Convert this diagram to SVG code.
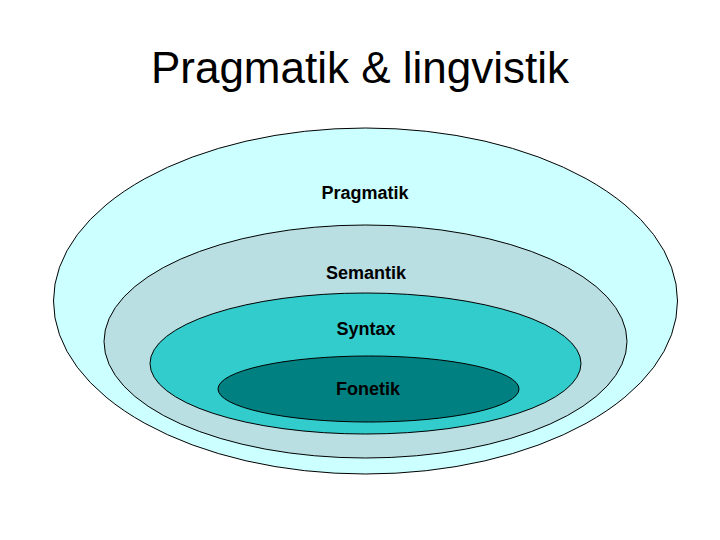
<svg xmlns="http://www.w3.org/2000/svg" width="720" height="540" viewBox="0 0 720 540">
<style>
.e{stroke:#000;stroke-width:1}
.l{font-family:"Liberation Sans",Arial,sans-serif;font-weight:bold;font-size:18px;text-anchor:middle;fill:#000}
.t{font-family:"Liberation Sans",Arial,sans-serif;font-size:44px;text-anchor:middle;fill:#000}
</style>
<rect width="720" height="540" fill="#fff"/>
<text class="t" x="360" y="83">Pragmatik &amp; lingvistik</text>
<g id="pragmatik">
<ellipse class="e" cx="365.5" cy="301" rx="312" ry="173" fill="#CCFFFF"/>
<text class="l" x="365" y="199">Pragmatik</text>
</g>
<g id="semantik">
<ellipse class="e" cx="365.5" cy="341.5" rx="261.5" ry="116.5" fill="#B9DFE3"/>
<text class="l" x="366" y="279">Semantik</text>
</g>
<g id="syntax">
<ellipse class="e" cx="365.5" cy="363.5" rx="215.5" ry="70.5" fill="#33CCCC"/>
<text class="l" x="366" y="335">Syntax</text>
</g>
<g id="fonetik">
<ellipse class="e" cx="368.5" cy="389" rx="150.5" ry="33" fill="#008080"/>
<text class="l" x="368" y="395">Fonetik</text>
</g>
<g id="connectors"/>
</svg>
